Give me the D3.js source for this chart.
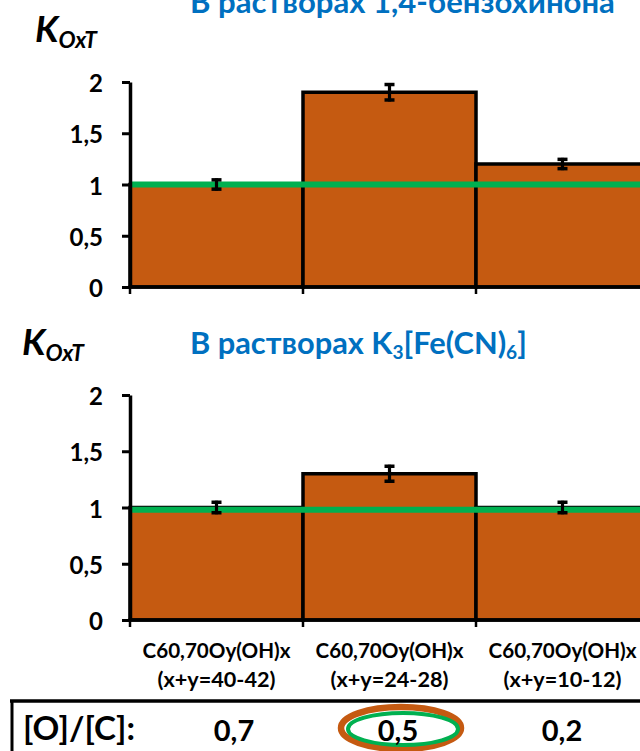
<!DOCTYPE html>
<html><head><meta charset="utf-8">
<script src="https://cdn.jsdelivr.net/npm/d3@7"></script>
<style>
body{margin:0;background:#fff}
svg{display:block}
text{font-family:Lato,"Open Sans",sans-serif;font-weight:bold}
</style>
</head><body>
<svg id="c" width="640" height="751"></svg>
<script>
// ---- data ----
const categories = ["C60,70Oy(OH)x (x+y=40-42)", "C60,70Oy(OH)x (x+y=24-28)", "C60,70Oy(OH)x (x+y=10-12)"];
const labelLine1 = ["C60,70Oy(OH)x", "C60,70Oy(OH)x", "C60,70Oy(OH)x"];
const labelLine2 = ["(x+y=40-42)", "(x+y=24-28)", "(x+y=10-12)"];
const benzoValues = [1.0, 1.9, 1.2];
const benzoErrors = [0.06, 0.09, 0.06];
const ferriValues = [1.0, 1.3, 1.0];
const ferriErrors = [0.06, 0.08, 0.06];
const benzoRef = 1.0;
const ferriRef = 0.98;
const yTicks = [0, 0.5, 1, 1.5, 2];
const ocRatios = ["0,7", "0,5", "0,2"];
const highlighted = "0,5";

// ---- helpers ----
const svg = d3.select("#c");
const BAR = "#c55a11", GREEN = "#00b050", BLUE = "#0070c0";
function fit(sel, w) {
  const fs = parseFloat(sel.attr("font-size"));
  const l = sel.node().getComputedTextLength();
  sel.attr("font-size", (fs * w / l).toFixed(2));
  return fs * w / l;
}
const fmt = d => String(d).replace(".", ",");

const x = d3.scaleBand().domain(categories).range([130, 649]).padding(0);

const panels = [
  {values: benzoValues, errors: benzoErrors, ref: benzoRef,
   y: d3.scaleLinear().domain([0, 2]).range([287, 82])},
  {values: ferriValues, errors: ferriErrors, ref: ferriRef,
   y: d3.scaleLinear().domain([0, 2]).range([620, 395])}
];

panels.forEach(p => {
  const g = svg.append("g");
  const y = p.y;
  // bars
  g.selectAll("rect.bar").data(categories).join("rect")
    .attr("x", c => x(c)).attr("width", x.bandwidth())
    .attr("y", (c, i) => y(p.values[i]))
    .attr("height", (c, i) => y(0) - y(p.values[i]))
    .attr("fill", BAR).attr("stroke", "#000").attr("stroke-width", 3.5);
  // reference line
  g.append("line")
    .attr("x1", x.range()[0]).attr("x2", 640)
    .attr("y1", y(p.ref)).attr("y2", y(p.ref))
    .attr("stroke", GREEN).attr("stroke-width", 6);
  // error bars
  const eb = g.selectAll("g.eb").data(categories).join("g")
    .attr("transform", c => `translate(${x(c) + x.bandwidth() / 2},0)`);
  eb.append("line").attr("x1", 0).attr("x2", 0)
    .attr("y1", (c, i) => y(p.values[i] + p.errors[i]))
    .attr("y2", (c, i) => y(p.values[i] - p.errors[i]))
    .attr("stroke", "#000").attr("stroke-width", 3.2);
  [1, -1].forEach(s => {
    eb.append("line").attr("x1", -5).attr("x2", 5)
      .attr("y1", (c, i) => y(p.values[i] + s * p.errors[i]) + s * 1.5)
      .attr("y2", (c, i) => y(p.values[i] + s * p.errors[i]) + s * 1.5)
      .attr("stroke", "#000").attr("stroke-width", 3.5);
  });
  // x axis line + ticks at band edges
  g.append("line").attr("x1", x.range()[0] - 1.5).attr("x2", 640)
    .attr("y1", y(0)).attr("y2", y(0)).attr("stroke", "#000").attr("stroke-width", 3.5);
  const edges = categories.map(c => x(c));
  g.selectAll("line.xt").data(edges).join("line")
    .attr("x1", d => d).attr("x2", d => d)
    .attr("y1", y(0)).attr("y2", y(0) + 7)
    .attr("stroke", "#000").attr("stroke-width", 2.5);
  // y axis
  const ax = g.append("g").attr("transform", `translate(${x.range()[0]},0)`)
    .call(d3.axisLeft(y).tickValues(yTicks).tickSize(8).tickSizeOuter(0)
      .tickPadding(19).tickFormat(fmt));
  ax.select(".domain").attr("stroke", "#000").attr("stroke-width", 3.5);
  ax.selectAll(".tick line").attr("stroke", "#000").attr("stroke-width", 3);
  ax.selectAll(".tick text").attr("font-size", 24).attr("fill", "#000")
    .attr("font-family", "Lato, 'Open Sans', sans-serif").attr("font-weight", "bold")
    .attr("dy", "0.4em");
});

// ---- titles ----
const t1 = svg.append("text").attr("x", 190).attr("y", 13)
  .attr("fill", BLUE).attr("font-size", 26).text("В растворах 1,4-бензохинона");
fit(t1, 425);

const t2 = svg.append("text").attr("x", 190).attr("y", 354)
  .attr("fill", BLUE).attr("font-size", 26);
t2.append("tspan").text("В растворах K");
t2.append("tspan").attr("font-size", "0.62em").attr("dy", 5).text("3");
t2.append("tspan").attr("dy", -5).text("[Fe(CN)");
t2.append("tspan").attr("font-size", "0.62em").attr("dy", 5).text("6");
t2.append("tspan").attr("dy", -5).text("]");
fit(t2, 337);

// ---- K_OxT labels ----
[[35, 42], [22, 355]].forEach(([kx, ky]) => {
  const k = svg.append("text").attr("x", kx).attr("y", ky)
    .attr("font-size", 28).attr("font-style", "italic").attr("fill", "#000");
  k.append("tspan").text("K");
  k.append("tspan").attr("font-size", "0.62em").attr("dy", 6).text("OxT");
  fit(k, 62);
});

// ---- category labels ----
const lab = svg.append("g");
const l1 = lab.selectAll("text.l1").data(labelLine1).join("text")
  .attr("x", (d, i) => x(categories[i]) + x.bandwidth() / 2).attr("y", 658)
  .attr("text-anchor", "middle").attr("font-size", 17).attr("fill", "#000").text(d => d);
const fsL = fit(d3.select(l1.nodes()[0]), 148);
l1.attr("font-size", fsL.toFixed(2));
lab.selectAll("text.l2").data(labelLine2).join("text")
  .attr("x", (d, i) => x(categories[i]) + x.bandwidth() / 2).attr("y", 687)
  .attr("text-anchor", "middle").attr("font-size", (fsL * 1.05).toFixed(2)).attr("fill", "#000").text(d => d);

// ---- table ----
const tx = d3.scalePoint().domain(categories).range([234, 562]);
svg.append("line").attr("x1", 10).attr("x2", 640).attr("y1", 701).attr("y2", 701)
  .attr("stroke", "#000").attr("stroke-width", 3.5);
svg.append("line").attr("x1", 12).attr("x2", 12).attr("y1", 700).attr("y2", 751)
  .attr("stroke", "#000").attr("stroke-width", 3);
const oc = svg.append("text").attr("x", 23).attr("y", 740).attr("font-size", 28)
  .attr("fill", "#000").text("[O]/[C]:");
fit(oc, 112);
const hiIdx = ocRatios.indexOf(highlighted);
const hx = tx(categories[hiIdx]) + 3;
svg.append("ellipse").attr("cx", hx).attr("cy", 728).attr("rx", 60).attr("ry", 21)
  .attr("fill", "none").attr("stroke", BAR).attr("stroke-width", 6.5);
svg.append("ellipse").attr("cx", hx + 2).attr("cy", 729).attr("rx", 55).attr("ry", 16)
  .attr("fill", "none").attr("stroke", GREEN).attr("stroke-width", 4);
svg.selectAll("text.oc").data(ocRatios).join("text")
  .attr("x", (d, i) => tx(categories[i])).attr("y", 741)
  .attr("text-anchor", "middle").attr("font-size", 29).attr("fill", "#000").text(d => d);
</script>
</body></html>
